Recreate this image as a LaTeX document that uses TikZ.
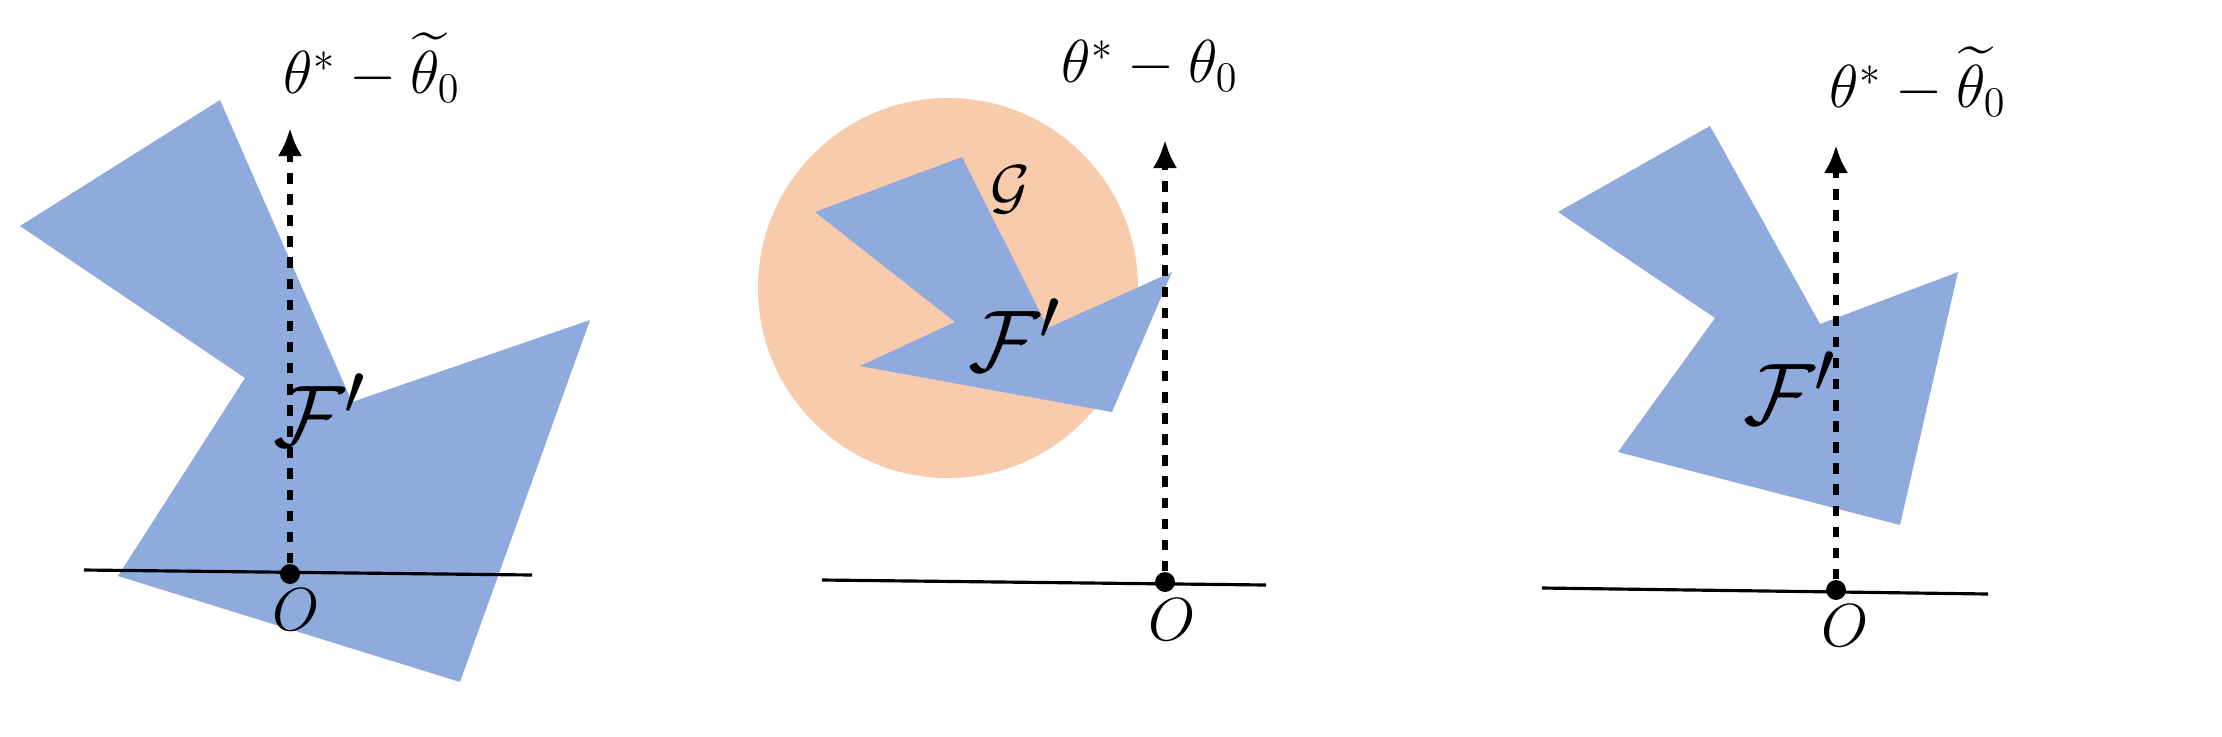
\documentclass[tikz,border=0pt]{standalone}
\usepackage{amsmath,amssymb}
\usetikzlibrary{arrows.meta}
\begin{document}
\begin{tikzpicture}[x=0.01cm,y=-0.01cm,
  ax/.style={line width=0.9pt},
  vec/.style={dashed,line width=1.6pt,-{Latex[length=8pt,width=7pt]}},
  lbl/.style={font=\fontsize{18}{22}\selectfont},
  flbl/.style={font=\fontsize{30}{36}\selectfont}]
\definecolor{bl}{HTML}{8FAADC}
\definecolor{orn}{HTML}{F8CBAD}
\useasboundingbox (0,0) rectangle (2222,736);
% panel 1
\fill[bl] (20,226)--(220,100)--(352,402)--(590,320)--(460,682)--(118,576)--(245,378)--cycle;
\coordinate (a1) at (84,570); \coordinate (b1) at (532,575);
\draw[ax] (a1)--(b1);
\node[circle,fill,inner sep=2pt] (o1) at (290,574) {};
\coordinate (t1) at (290,128);
\draw[vec] (o1)--(t1);
\node[lbl] (L1) at (372,68) {$\theta^*-\widetilde{\theta}_0$};
\node[lbl] (O1) at (296,610) {$O$};
\node[flbl] (F1) at (320,410) {$\mathcal{F}'$};
% panel 2
\fill[orn] (948,288) circle (190);
\fill[bl] (815,212)--(962,157)--(1048,328)--(1172,272)--(1112,412)--(860,366)--(955,322)--cycle;
\draw[ax] (822,580)--(1266,585);
\node[circle,fill,inner sep=2pt] (o2) at (1165,582) {};
\coordinate (t2) at (1165,140);
\draw[vec] (o2)--(t2);
\node[lbl] (L2) at (1150,66) {$\theta^*-\theta_0$};
\node[lbl] (G) at (1010,190) {$\mathcal{G}$};
\node[lbl] (O2) at (1172,620) {$O$};
\node[flbl] (F2) at (1015,335) {$\mathcal{F}'$};
% panel 3
\fill[bl] (1558,212)--(1710,126)--(1820,324)--(1958,272)--(1900,525)--(1618,452)--(1715,318)--cycle;
\draw[ax] (1542,588)--(1988,594);
\node[circle,fill,inner sep=2pt] (o3) at (1836,590) {};
\coordinate (t3) at (1836,145);
\draw[vec] (o3)--(t3);
\node[lbl] (L3) at (1918,82) {$\theta^*-\widetilde{\theta}_0$};
\node[lbl] (O3) at (1845,626) {$O$};
\node[flbl] (F3) at (1790,388) {$\mathcal{F}'$};
\end{tikzpicture}
\end{document}
